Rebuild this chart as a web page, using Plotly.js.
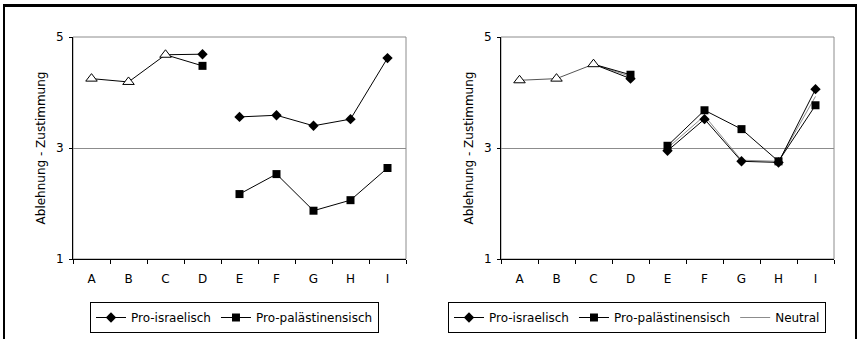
<!DOCTYPE html>
<html>
<head>
<meta charset="utf-8">
<script src="https://cdn.plot.ly/plotly-3.0.1.min.js"></script>
<style>html,body{margin:0;padding:0;background:#fff}#chart{width:860px;height:339px}</style>
</head>
<body>
<div id="chart"></div>
<script>
// ---- data ----
const categories = ['A', 'B', 'C', 'D', 'E', 'F', 'G', 'H', 'I'];
const seriesNames = ['Pro-israelisch', 'Pro-palästinensisch', 'Neutral'];
const yTitle = 'Ablehnung - Zustimmung';
const yTicks = [1, 3, 5];

// left panel
const leftCommon  = [4.25, 4.19, 4.68];                       // A–C (all groups)
const leftIsraeli = [4.69, 3.56, 3.59, 3.40, 3.52, 4.62];     // D–I
const leftPalest  = [4.48, 2.17, 2.53, 1.87, 2.06, 2.64];     // D–I

// right panel
const rightCommon  = [4.22, 4.25, 4.51];
const rightIsraeli = [4.25, 2.95, 3.52, 2.76, 2.74, 4.06];
const rightPalest  = [4.32, 3.04, 3.68, 3.34, 2.76, 3.77];
const rightNeutral = [4.29, 3.00, 3.58, 2.78, 2.76, 3.93];

// ---- build ----
const W = 860, H = 339;
const px = v => v / W, py = v => 1 - v / H;
const font = {family: 'DejaVu Sans', size: 12, color: '#000'};

function groupTraces(common, values, xa, ya, name, legend, style) {
  // values start at D; break between D and E
  const xs = [categories[3], categories[3]].concat(categories.slice(4));
  const ys = [values[0], null].concat(values.slice(1));
  const main = {x: xs, y: ys, xaxis: xa, yaxis: ya, name: name, legend: legend,
     mode: style.symbol ? 'lines+markers' : 'lines', connectgaps: false,
     line: {color: style.color, width: 1}};
  if (style.symbol) main.marker = {symbol: style.symbol, size: style.size, color: '#000'};
  return [
    {x: [categories[2], categories[3]], y: [common[2], values[0]], xaxis: xa, yaxis: ya,
     mode: 'lines', line: {color: style.color, width: 1}, showlegend: false, hoverinfo: 'skip'},
    main
  ];
}
function commonTrace(common, xa, ya, color) {
  return {x: categories.slice(0, 3), y: common, xaxis: xa, yaxis: ya, mode: 'lines+markers',
    showlegend: false, line: {color: color, width: 1},
    marker: {symbol: 'triangle-up', size: 10, color: '#fff', line: {color: '#000', width: 1}}};
}

const dia = {color: '#000', symbol: 'diamond', size: 8};
const sq = {color: '#000', symbol: 'square', size: 8};
const gray = {color: '#8c8c8c'};

const traces = [].concat(
  groupTraces(leftCommon, leftIsraeli, 'x', 'y', seriesNames[0], 'legend', dia),
  groupTraces(leftCommon, leftPalest, 'x', 'y', seriesNames[1], 'legend', sq),
  [commonTrace(leftCommon, 'x', 'y', '#000')],
  groupTraces(rightCommon, rightNeutral, 'x2', 'y2', seriesNames[2], 'legend2', gray),
  groupTraces(rightCommon, rightIsraeli, 'x2', 'y2', seriesNames[0], 'legend2', dia),
  groupTraces(rightCommon, rightPalest, 'x2', 'y2', seriesNames[1], 'legend2', sq),
  [commonTrace(rightCommon, 'x2', 'y2', '#555')]
);
// legend order for right: israeli, palest, neutral
traces.forEach(t => {
  if (t.name === seriesNames[0]) t.legendrank = 1;
  if (t.name === seriesNames[1]) t.legendrank = 2;
  if (t.name === seriesNames[2]) t.legendrank = 3;
});

function xaxis(domain, anchor) {
  return {domain: domain, anchor: anchor, type: 'category', categoryarray: categories,
    range: [-0.5, 8.5], tickson: 'boundaries', ticks: 'outside', ticklen: 4, tickcolor: '#000',
    showline: true, linecolor: '#000', linewidth: 1, showgrid: false, zeroline: false,
    tickfont: font, ticklabelstandoff: 9, fixedrange: true};
}
function yaxis(anchor) {
  return {domain: [py(259), py(37)], anchor: anchor, range: [1, 5], tickvals: yTicks,
    ticks: 'outside', ticklen: 3, tickcolor: '#000', showline: true, linecolor: '#000', linewidth: 1,
    showgrid: true, gridcolor: '#8c8c8c', gridwidth: 1, zeroline: false, tickfont: font,
    ticklabelstandoff: 3, title: {text: yTitle, font: font, standoff: 7}, automargin: false, fixedrange: true};
}

const lx = [px(73), px(406)], rx = [px(501), px(834)];
const plotBorder = (xr, yr) => ({type: 'rect', xref: xr + ' domain', yref: yr + ' domain',
  x0: 0, x1: 1, y0: 0, y1: 1, line: {color: '#8c8c8c', width: 1}, layer: 'below'});
const frame = c => Object.assign({type: 'line', xref: 'paper', yref: 'paper', line: {color: '#000', width: 2}}, c);

const layout = {
  width: W, height: H, margin: {l: 0, r: 0, t: 0, b: 0},
  paper_bgcolor: '#fff', plot_bgcolor: '#fff', font: font, showlegend: true,
  xaxis: xaxis(lx, 'y'), yaxis: yaxis('x'),
  xaxis2: xaxis(rx, 'y2'), yaxis2: yaxis('x2'),
  legend: {orientation: 'h', x: px(90), y: py(302), xanchor: 'left', yanchor: 'top',
    bordercolor: '#000', borderwidth: 1, font: font, traceorder: 'normal', itemwidth: 30},
  legend2: {orientation: 'h', x: px(448), y: py(302), xanchor: 'left', yanchor: 'top',
    bordercolor: '#000', borderwidth: 1, font: font, traceorder: 'normal', itemwidth: 30},
  shapes: [
    plotBorder('x', 'y'), plotBorder('x2', 'y2'),
    frame({x0: px(3), x1: px(857), y0: py(5.5), y1: py(5.5), line: {color: '#000', width: 3}}),
    frame({x0: px(4), x1: px(4), y0: py(5), y1: 0}),
    frame({x0: px(856), x1: px(856), y0: py(5), y1: 0})
  ]
};

Plotly.newPlot('chart', traces, layout, {displayModeBar: false, staticPlot: true});
</script>
</body>
</html>
